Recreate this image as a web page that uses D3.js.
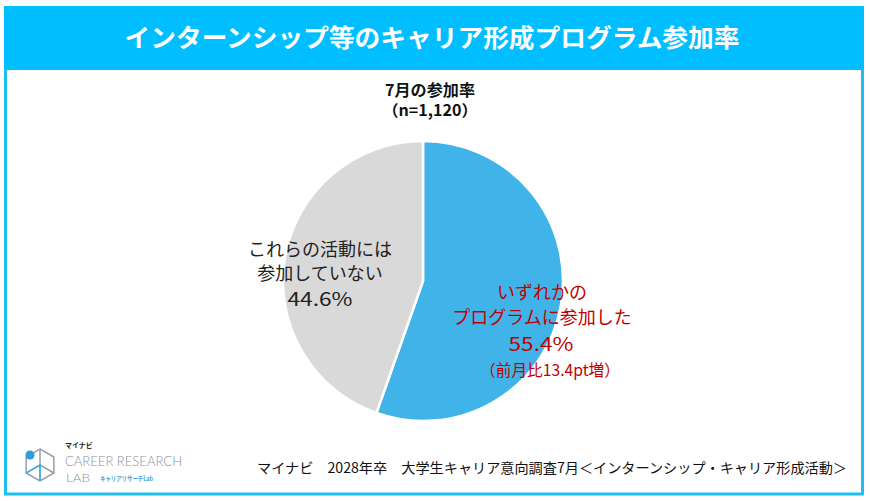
<!DOCTYPE html>
<html><head><meta charset="utf-8">
<script src="https://cdn.jsdelivr.net/npm/d3@7/dist/d3.min.js"></script>
<style>
html,body{margin:0;padding:0;background:#fff;}
svg{display:block;font-family:"Noto Sans CJK JP","Noto Sans",sans-serif;}
</style></head>
<body>
<svg id="chart" width="870" height="501"></svg>
<script>
const title = "インターンシップ等のキャリア形成プログラム参加率";
const subtitle = ["7月の参加率", "（n=1,120）"];
const categories = ["いずれかのプログラムに参加した", "これらの活動には参加していない"];
const values = [55.4, 44.6];
const labelLines = [
  ["いずれかの", "プログラムに参加した", "55.4%"],
  ["これらの活動には", "参加していない", "44.6%"]
];
const changeNote = "（前月比13.4pt増）";
const colors = ["#40B4E8", "#D9D9D9"];
const source = "マイナビ　2028年卒　大学生キャリア意向調査7月＜インターンシップ・キャリア形成活動＞";

const svg = d3.select("#chart");

// frame
svg.append("rect").attr("x", 5.5).attr("y", 8).attr("width", 857).attr("height", 486)
  .attr("fill", "#fff").attr("stroke", "#1EBEF0").attr("stroke-width", 3);
svg.append("rect").attr("x", 4).attr("y", 6).attr("width", 860).attr("height", 64)
  .attr("fill", "#00BEFF");
svg.append("text").attr("x", 432).attr("y", 47).attr("text-anchor", "middle")
  .attr("fill", "#fff").attr("font-size", 25).attr("font-weight", 700)
  .attr("textLength", 615).attr("lengthAdjust", "spacingAndGlyphs").text(title);

// subtitle
svg.selectAll("text.sub").data(subtitle).join("text").attr("class", "sub")
  .attr("x", 430).attr("y", (d, i) => 96 + i * 20).attr("text-anchor", "middle")
  .attr("font-size", 15.5).attr("font-weight", 700).attr("fill", "#111")
  .attr("textLength", (d, i) => i === 0 ? 90 : 95).attr("lengthAdjust", "spacingAndGlyphs")
  .text(d => d);

// pie
const cx = 423, cy = 281, R = 140;
const pie = d3.pie().sort(null).value(d => d).startAngle(0).endAngle(2 * Math.PI);
const arc = d3.arc().innerRadius(0).outerRadius(R);
const g = svg.append("g").attr("transform", `translate(${cx},${cy})`);
g.selectAll("path").data(pie(values)).join("path")
  .attr("d", arc).attr("fill", (d, i) => colors[i])
  .attr("stroke", "#fff").attr("stroke-width", 2.5).attr("stroke-linejoin", "round");

// labels
const redLbl = svg.append("g").attr("fill", "#C00000").attr("text-anchor", "middle");
const redY = [299, 324, 351];
labelLines[0].forEach((t, i) => {
  const el = redLbl.append("text").attr("x", i === 2 ? 541 : 542).attr("y", redY[i])
    .attr("font-size", i === 2 ? 19 : 18).text(t);
  if (i === 2) el.attr("textLength", 65).attr("lengthAdjust", "spacingAndGlyphs");
});
redLbl.append("text").attr("x", 550).attr("y", 376).attr("font-size", 16)
  .attr("textLength", 140).attr("lengthAdjust", "spacingAndGlyphs").text(changeNote);

const grayLbl = svg.append("g").attr("fill", "#222").attr("text-anchor", "middle");
const grayY = [256, 280, 306];
labelLines[1].forEach((t, i) => {
  const el = grayLbl.append("text").attr("x", 320).attr("y", grayY[i])
    .attr("font-size", i === 2 ? 19 : 18).text(t);
  if (i === 2) el.attr("textLength", 65).attr("lengthAdjust", "spacingAndGlyphs");
});

// source
svg.append("text").attr("x", 257).attr("y", 473).attr("font-size", 14).attr("fill", "#111")
  .attr("textLength", 590).attr("lengthAdjust", "spacingAndGlyphs").text(source);

// logo
const logo = svg.append("g");
const hx = 40, hy = 465, s = 16;
const hex = d3.range(6).map(k => {
  const a = Math.PI / 3 * k - Math.PI / 2;
  return [hx + s * Math.cos(a), hy + s * Math.sin(a)];
});
logo.append("path").attr("d", "M" + hex.map(p => p.join(",")).join("L") + "Z")
  .attr("fill", "none").attr("stroke", "#9AA0A8").attr("stroke-width", 1.5);
logo.append("path").attr("d", `M${hx},${hy}L${hex[0][0]},${hex[0][1]}M${hx},${hy}L${hex[2][0]},${hex[2][1]}`)
  .attr("fill", "none").attr("stroke", "#9AA0A8").attr("stroke-width", 1.5);
logo.append("path").attr("d", `M${hex[4][0]},${hex[4][1]}L${hx},${hy}L${hex[3][0]},${hex[3][1]}`)
  .attr("fill", "none").attr("stroke", "#3FA9E0").attr("stroke-width", 1.8);
logo.append("circle").attr("cx", 30).attr("cy", 455).attr("r", 4.5).attr("fill", "#2E9BDA");
logo.append("text").attr("x", 65).attr("y", 448).attr("font-size", 7).attr("font-weight", 700)
  .attr("fill", "#222").text("マイナビ");
logo.append("text").attr("x", 65).attr("y", 466).attr("font-size", 13).attr("font-weight", 300)
  .attr("fill", "#8C929B").attr("textLength", 117).attr("lengthAdjust", "spacingAndGlyphs")
  .attr("font-family", "Lato, 'Noto Sans', sans-serif").text("CAREER RESEARCH");
logo.append("text").attr("x", 66).attr("y", 482).attr("font-size", 12).attr("font-weight", 300)
  .attr("fill", "#8C929B").attr("textLength", 24).attr("lengthAdjust", "spacingAndGlyphs")
  .attr("font-family", "Lato, 'Noto Sans', sans-serif").text("LAB");
logo.append("text").attr("x", 100).attr("y", 481).attr("font-size", 7).attr("font-weight", 700)
  .attr("fill", "#3FA9E0").attr("textLength", 53).attr("lengthAdjust", "spacingAndGlyphs")
  .text("キャリアリサーチLab");
</script>
</body></html>
